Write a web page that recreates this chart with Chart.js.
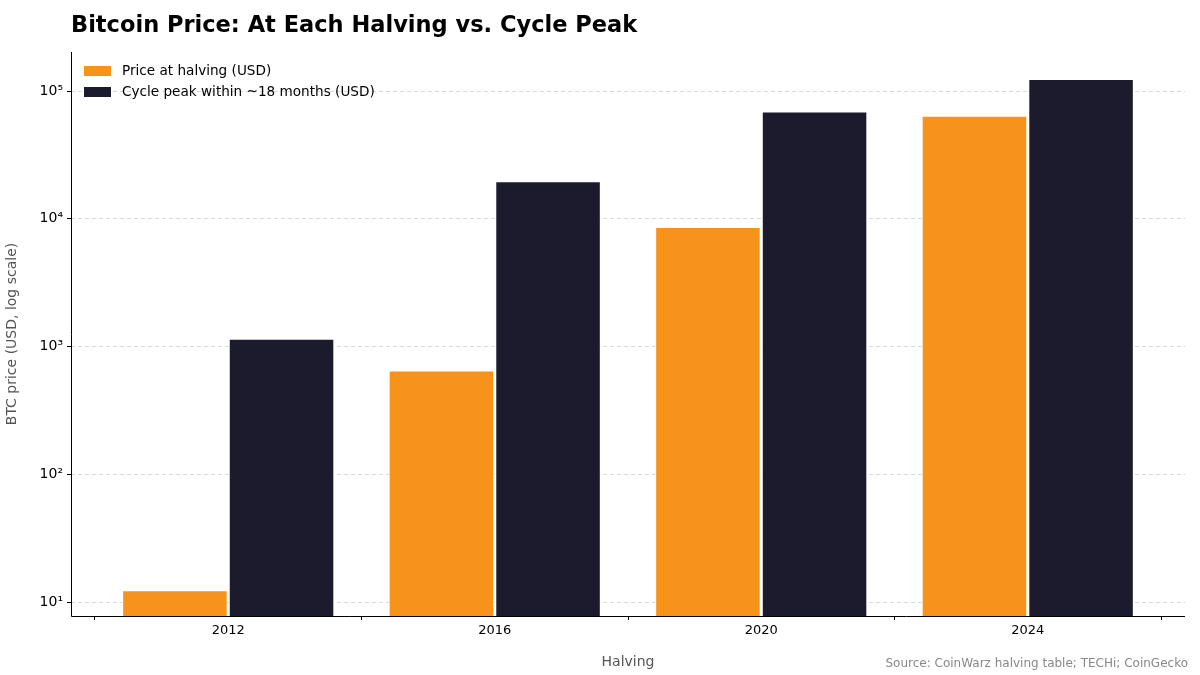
<!DOCTYPE html>
<html><head><meta charset="utf-8">
<script src="https://cdn.jsdelivr.net/npm/chart.js@4/dist/chart.umd.min.js"></script>
<style>html,body{margin:0;padding:0;background:#fff}#w{width:1200px;height:675px}</style>
</head><body><div id="w"><canvas id="c"></canvas></div>
<script>
const categories = ["2012","2016","2020","2024"];
const priceAtHalving = [12.35, 650, 8600, 64000];
const cyclePeak = [1150, 19700, 69000, 124000];
const tickValues = [10, 100, 1000, 10000, 100000];
const sup = {"1":"¹","2":"²","3":"³","4":"⁴","5":"⁵"};
const FONT = "'DejaVu Sans', sans-serif";

const overlay = {
  id: 'overlay',
  afterDraw(chart) {
    const ctx = chart.ctx, a = chart.chartArea;
    ctx.save();
    ctx.fillStyle = '#000';
    ctx.font = "bold 22.5px " + FONT;
    ctx.textBaseline = 'middle';
    ctx.fillText('Bitcoin Price: At Each Halving vs. Cycle Peak', 71, 26);
    ctx.strokeStyle = '#000'; ctx.lineWidth = 1;
    ctx.beginPath(); ctx.moveTo(a.left + 0.5, a.top); ctx.lineTo(a.left + 0.5, a.bottom + 0.5); ctx.lineTo(a.right, a.bottom + 0.5); ctx.stroke();
    ctx.font = "13.6px " + FONT;
    const items = [['Price at halving (USD)', '#f7931a'], ['Cycle peak within ~18 months (USD)', '#1c1b2e']];
    items.forEach((it, i) => {
      const y = 71 + i * 21;
      ctx.fillStyle = it[1]; ctx.fillRect(84, y - 5, 27, 10);
      ctx.fillStyle = '#000'; ctx.fillText(it[0], 122, y);
    });
    ctx.font = "12px " + FONT; ctx.fillStyle = '#888'; ctx.textAlign = 'right';
    ctx.fillText('Source: CoinWarz halving table; TECHi; CoinGecko', 1188, 664);
    ctx.restore();
  }
};

const pts = arr => arr.map((v, i) => ({ x: i, y: v }));

new Chart(document.getElementById('c'), {
  type: 'bar',
  data: {
    datasets: [
      { label: 'Price at halving (USD)', data: pts(priceAtHalving), backgroundColor: '#f7931a', borderColor: '#ffffff', borderWidth: 1, categoryPercentage: 0.8, barPercentage: 0.99 },
      { label: 'Cycle peak within ~18 months (USD)', data: pts(cyclePeak), backgroundColor: '#1c1b2e', borderColor: '#ffffff', borderWidth: 1, categoryPercentage: 0.8, barPercentage: 0.99 }
    ]
  },
  options: {
    responsive: true, maintainAspectRatio: false, animation: false,
    layout: { padding: { top: 52, right: 15, left: 0, bottom: 0 } },
    plugins: { legend: { display: false }, tooltip: { enabled: false } },
    scales: {
      x: {
        type: 'linear', offset: false, min: -0.59, max: 3.59,
        afterBuildTicks: s => { s.ticks = categories.map((c, i) => ({ value: i })); },
        grid: { display: true, drawOnChartArea: false, drawTicks: true, tickLength: 4, color: '#000' },
        border: { display: false },
        ticks: { color: '#000', font: { size: 13, family: FONT }, padding: 3, callback: v => categories[v] },
        title: { display: true, text: 'Halving', color: '#555', font: { size: 14, family: FONT }, padding: { top: 4 } },
        afterFit: s => { s.height = 59; }
      },
      y: {
        type: 'logarithmic', min: 7.77, max: 202000,
        afterBuildTicks: s => { s.ticks = tickValues.map(v => ({ value: v })); },
        grid: { color: 'rgba(0,0,0,0.15)', borderDash: [4, 3], tickColor: '#000', tickLength: 4 },
        border: { display: false, dash: [4, 3] },
        ticks: { color: '#000', font: { size: 14, family: FONT }, padding: 4, callback: v => '10' + sup[String(Math.round(Math.log10(v)))] },
        title: { display: true, text: 'BTC price (USD, log scale)', color: '#555', font: { size: 14, family: FONT }, padding: { bottom: 6 } },
        afterFit: s => { s.width = 71; }
      }
    }
  },
  plugins: [overlay]
});
</script></body></html>
